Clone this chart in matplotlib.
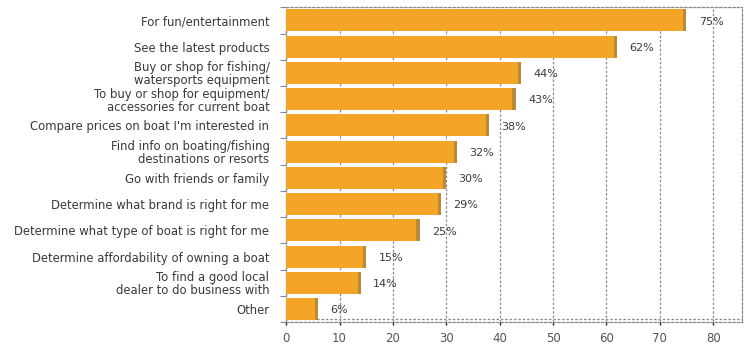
import matplotlib.pyplot as plt
import numpy as np

reasons = [
    "For fun/entertainment",
    "See the latest products",
    "Buy or shop for fishing/\nwatersports equipment",
    "To buy or shop for equipment/\naccessories for current boat",
    "Compare prices on boat I'm interested in",
    "Find info on boating/fishing\ndestinations or resorts",
    "Go with friends or family",
    "Determine what brand is right for me",
    "Determine what type of boat is right for me",
    "Determine affordability of owning a boat",
    "To find a good local\ndealer to do business with",
    "Other",
]
percent = [75, 62, 44, 43, 38, 32, 30, 29, 25, 15, 14, 6]
x_ticks = [0, 10, 20, 30, 40, 50, 60, 70, 80]

bar_color = "#F5A526"
side_color = "#B98A3A"
grid_color = "#8a8a8a"
text_color = "#3a3a3a"

plt.rcParams['hatch.color'] = "#FBD58A"
plt.rcParams['hatch.linewidth'] = 0.7

fig = plt.figure(figsize=(7.51, 3.46), dpi=100)
ax = fig.add_axes([0.381, 0.069, 0.607, 0.910])

y = np.arange(len(reasons))

ax.barh(y, percent, height=0.84, color=bar_color, edgecolor="none",
        hatch="..", zorder=3)
# darker end face for a bit of depth
ax.barh(y, [0.6] * len(percent), left=np.array(percent) - 0.6, height=0.84,
        color=side_color, edgecolor="none", zorder=4)

for yi, v in zip(y, percent):
    ax.text(v + 2.3, yi + 0.05, f"{v}%", va="center", ha="left",
            fontsize=8, color=text_color)

ax.set_xlim(0, 85.4)
ax.set_ylim(len(reasons) - 0.5, -0.5)

ax.set_yticks(y)
ax.set_yticklabels(reasons, fontsize=8.4, color=text_color, linespacing=1.0)
ax.set_yticks(np.arange(len(reasons) + 1) - 0.5, minor=True)
ax.tick_params(axis="y", which="major", length=0, pad=12)
ax.tick_params(axis="y", which="minor", length=4, color=grid_color, width=0.8)

ax.set_xticks(x_ticks)
ax.set_xticklabels([str(t) for t in x_ticks], fontsize=8.5, color="#555555")
ax.tick_params(axis="x", length=2, color="#222222", width=1, pad=5)

ax.grid(axis="x", color=grid_color, linestyle=(0, (2, 1.5)), linewidth=0.9,
        zorder=1)
ax.set_axisbelow(True)

for side in ["left", "right", "top", "bottom"]:
    ax.spines[side].set_color(grid_color)
    ax.spines[side].set_linestyle((0, (2, 1.5)))
    ax.spines[side].set_linewidth(0.9)
# second floor line
ax.axhline(len(reasons) - 0.5 - 0.12, color=grid_color,
           linestyle=(0, (2, 1.5)), linewidth=0.9, zorder=2, clip_on=False)

fig.savefig("out.png", dpi=100)
